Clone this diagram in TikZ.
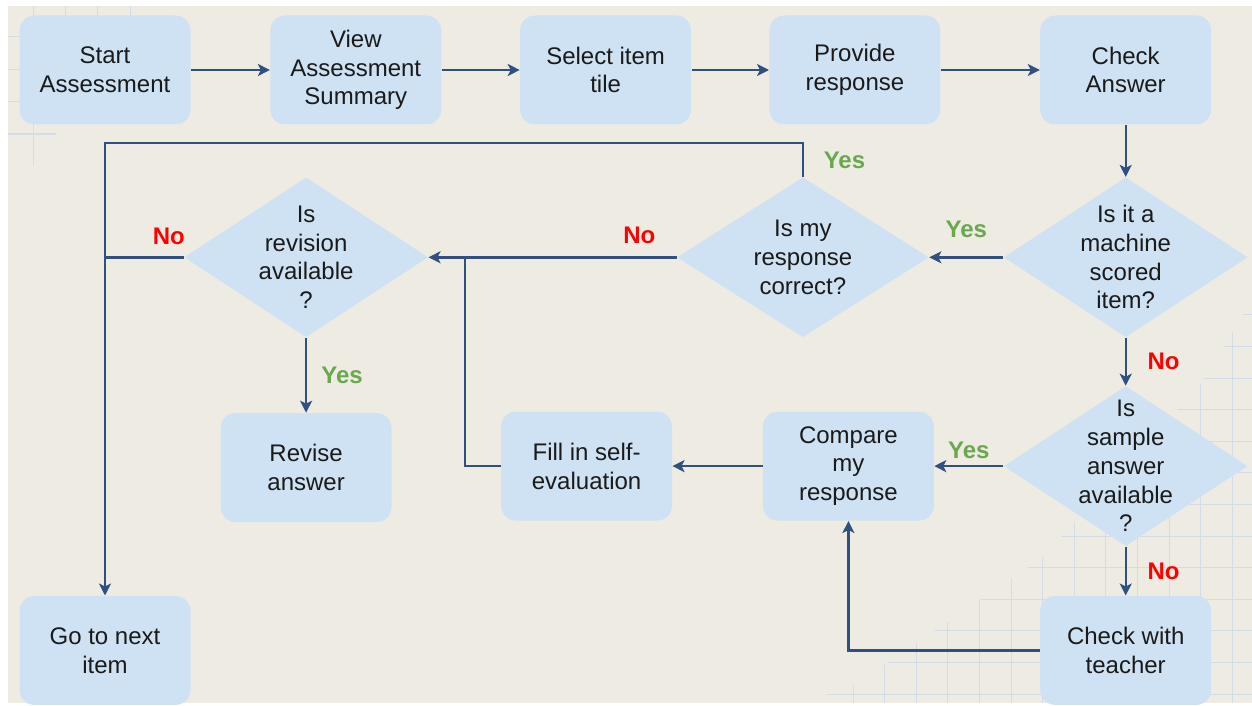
\documentclass[tikz,border=0pt]{standalone}
\usepackage{fontspec}
\setmainfont{Liberation Sans}
\usepackage{xcolor}
\usetikzlibrary{arrows.meta, positioning, shapes.geometric}

\definecolor{boxblue}{RGB}{207,226,243}
\definecolor{lineblue}{RGB}{47,80,128}
\definecolor{yesgreen}{RGB}{106,168,79}
\definecolor{nored}{RGB}{255,0,0}
\definecolor{paper}{RGB}{238,236,226}
\definecolor{gridgray}{RGB}{212,220,230}
\definecolor{inkgray}{RGB}{26,26,26}

\begin{document}
\begin{tikzpicture}[
    x=0.5pt, y=-0.5pt,
    node distance=39.5pt,
    every node/.style={font=\fontsize{12}{14.35}\selectfont, text=inkgray},
    block/.style={rectangle, fill=boxblue, rounded corners=7.5pt, minimum width=85.5pt, minimum height=54.5pt, align=center, inner sep=2pt},
    decision/.style={diamond, fill=boxblue, minimum width=122pt, minimum height=80pt, inner sep=-20pt, align=center},
    arrow/.style={-{Stealth[length=6pt, width=6pt, inset=1.5pt]}, line width=1.2pt, draw=lineblue},
    link/.style={line width=1.2pt, draw=lineblue},
    yeslabel/.style={font=\fontsize{12}{14}\selectfont\bfseries, text=yesgreen},
    nolabel/.style={font=\fontsize{12}{14}\selectfont\bfseries, text=nored},
    gridline/.style={draw=gridgray, line width=0.5pt}
]
    % paper and faint grid
    \useasboundingbox (0,0) rectangle (1252,706);
    \fill[white] (0,0) rectangle (1252,706);
    \fill[paper] (8,6) rectangle (1252,703);
    \begin{scope}
        \clip (8,6) -- (150,6) -- (8,200) -- cycle;
        \foreach \gx in {33,65,97,130} \draw[gridline] (\gx,6) -- (\gx,200);
        \foreach \gy in {37,70,102,134} \draw[gridline] (8,\gy) -- (150,\gy);
    \end{scope}
    \begin{scope}
        \clip (1252,300) -- (1200,385) -- (1042,558) -- (853,686) -- (800,703) -- (1252,703) -- cycle;
        \foreach \gx in {853,884.6,...,1252} \draw[gridline] (\gx,300) -- (\gx,703);
        \foreach \gy in {694,662.4,...,300} \draw[gridline] (790,\gy) -- (1252,\gy);
    \end{scope}

    % top row
    \node[block] (start) at (105,70) {Start\\Assessment};
    \node[block, right=of start] (summary) {View\\Assessment\\Summary};
    \node[block, right=39pt of summary] (select) {Select item\\tile};
    \node[block, right=38.75pt of select] (provide) {Provide\\response};
    \node[block, right=49.5pt of provide] (check) {Check\\Answer};

    % decisions and actions
    \node[decision, below=26pt of check] (machine) {Is it a\\machine\\scored\\item?};
    \node[decision, minimum width=126pt, left=37pt of machine] (correct) {Is my\\response\\correct?};
    \node[decision, left=124pt of correct] (revision) {Is\\revision\\available\\?};
    \node[block, below=37.5pt of revision] (revise) {Revise\\answer};
    \node[decision, below=24pt of machine] (sample) {Is\\sample\\answer\\available\\?};
    \node[block, left=34.5pt of sample] (compare) {Compare\\my\\response};
    \node[block, left=45pt of compare] (selfeval) {Fill in self-\\evaluation};
    \node[block, below=24.5pt of sample] (teacher) {Check with\\teacher};
    \node[block] (next) at (start |- teacher) {Go to next\\item};

    % connectors
    \draw[arrow] (start) -- (summary);
    \draw[arrow] (summary) -- (select);
    \draw[arrow] (select) -- (provide);
    \draw[arrow] (provide) -- (check);
    \draw[arrow] (check) -- (machine);
    \draw[arrow] (machine) -- node[above=6pt, yeslabel]{Yes} (correct);
    \draw[arrow] (machine) -- node[right=7pt, nolabel]{No} (sample);
    \draw[arrow] (correct) -- node[pos=0.15, above=3pt, nolabel]{No} (revision);
    \draw[arrow] (correct.north) -- node[right=6.5pt, yeslabel]{Yes} ++(0,17pt) -| (next.north);
    \draw[link] (revision.west) -- node[pos=0.19, above=2.5pt, nolabel]{No} (revision.west -| next);
    \draw[arrow] (revision) -- node[right=3.7pt, yeslabel]{Yes} (revise);
    \draw[arrow] (sample) -- node[above=0pt, yeslabel]{Yes} (compare);
    \draw[arrow] (sample) -- node[right=7pt, nolabel]{No} (teacher);
    \draw[arrow] (compare) -- (selfeval);
    \draw[link] (selfeval.west) -- ++(-18pt,0) coordinate (joint) -- (joint |- revision);
    \draw[arrow] (teacher.west) -| (compare.south);
\end{tikzpicture}
\end{document}
